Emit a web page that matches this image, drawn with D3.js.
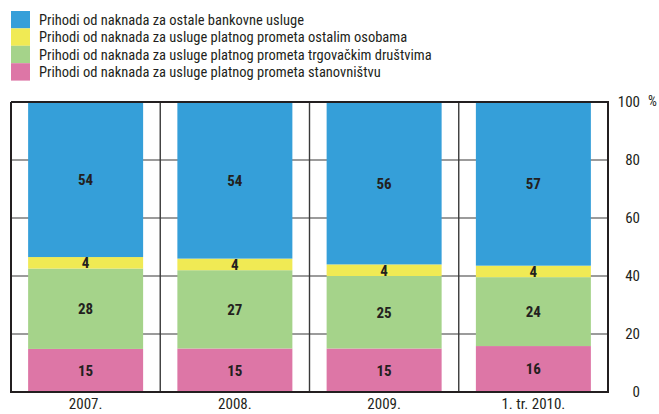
<!DOCTYPE html>
<html>
<head>
<meta charset="utf-8">
<script src="https://cdn.jsdelivr.net/npm/d3@7"></script>
<style>
  html, body { margin: 0; padding: 0; background: #ffffff; }
  svg { display: block; }
  text { font-family: "Liberation Sans Narrow", "Roboto Condensed", "DejaVu Sans Condensed", sans-serif; fill: #231f20; }
</style>
</head>
<body>
<svg id="chart" width="659" height="414"></svg>
<script>
// Fee income structure, shares in percent
const categories = ["2007.", "2008.", "2009.", "1. tr. 2010."];
const seriesNames = [
  "Prihodi od naknada za usluge platnog prometa stanovništvu",
  "Prihodi od naknada za usluge platnog prometa trgovačkim društvima",
  "Prihodi od naknada za usluge platnog prometa ostalim osobama",
  "Prihodi od naknada za ostale bankovne usluge"
];
const stanovnistvo = [15, 15, 15, 16];
const trgovackaDrustva = [28, 27, 25, 24];
const ostaleOsobe = [4, 4, 4, 4];
const ostaleUsluge = [54, 54, 56, 57];
const yTicks = [0, 20, 40, 60, 80, 100];
const colors = ["#dd76a6", "#a5d38a", "#f0ea54", "#359fd9"];

const seriesValues = [stanovnistvo, trgovackaDrustva, ostaleOsobe, ostaleUsluge];
const rows = categories.map((c, i) => {
  const r = { category: c };
  seriesNames.forEach((s, k) => { r[s] = seriesValues[k][i]; });
  return r;
});

const svg = d3.select("#chart");
const plot = { left: 11, right: 608, top: 102, bottom: 392 };

const x = d3.scaleBand()
  .domain(categories)
  .range([plot.left, plot.right])
  .paddingInner(0.2295)
  .paddingOuter(0.2295 / 2);

const y = d3.scaleLinear().domain([0, 100]).range([plot.bottom, plot.top]);

// Each column is stacked as shares of its own total
const stack = d3.stack().keys(seriesNames).offset(d3.stackOffsetExpand);
const layers = stack(rows);

// Horizontal grid lines
svg.append("g")
  .selectAll("line")
  .data(yTicks.filter(t => t > 0 && t < 100))
  .join("line")
  .attr("x1", plot.left).attr("x2", plot.right)
  .attr("y1", d => y(d)).attr("y2", d => y(d))
  .attr("stroke", "#7a7a7a").attr("stroke-width", 1.4);

// Vertical separators between categories
const step = x.step();
svg.append("g")
  .selectAll("line")
  .data(d3.range(1, categories.length))
  .join("line")
  .attr("x1", i => plot.left + i * step).attr("x2", i => plot.left + i * step)
  .attr("y1", plot.top).attr("y2", plot.bottom)
  .attr("stroke", "#3a3a3a").attr("stroke-width", 1.4);

// Bars
const layerG = svg.append("g")
  .selectAll("g")
  .data(layers)
  .join("g")
  .attr("fill", (d, i) => colors[i]);

layerG.selectAll("rect")
  .data(d => d)
  .join("rect")
  .attr("x", d => x(d.data.category))
  .attr("width", x.bandwidth())
  .attr("y", d => y(d[1] * 100))
  .attr("height", d => y(d[0] * 100) - y(d[1] * 100));

// Value labels
svg.append("g")
  .selectAll("g")
  .data(layers)
  .join("g")
  .each(function(layer) {
    d3.select(this).selectAll("text")
      .data(layer)
      .join("text")
      .attr("x", d => x(d.data.category) + x.bandwidth() / 2)
      .attr("y", d => y((d[0] + d[1]) / 2 * 100))
      .attr("dy", "0.36em")
      .attr("text-anchor", "middle")
      .attr("font-size", 15)
      .attr("font-weight", "bold")
      .text(d => d.data[layer.key]);
  });

// Plot frame
svg.append("path")
  .attr("d", `M${plot.left},${plot.top}V${plot.bottom}H${plot.right}V${plot.top}H${plot.left}`)
  .attr("fill", "none")
  .attr("stroke", "#231f20")
  .attr("stroke-width", 2);

// Right value axis
const yAxis = d3.axisRight(y).tickValues(yTicks).tickSize(0).tickPadding(0);
const yAxisG = svg.append("g")
  .attr("transform", `translate(${plot.right},0)`)
  .call(yAxis);
yAxisG.select(".domain").remove();
yAxisG.selectAll("text")
  .attr("x", 32)
  .attr("text-anchor", "end")
  .attr("font-size", 15)
  .attr("fill", "#231f20")
  .style("font-family", null);
svg.append("text")
  .attr("x", 648).attr("y", y(100)).attr("dy", "0.32em")
  .attr("font-size", 14)
  .text("%");

// Category axis
const xAxis = d3.axisBottom(x).tickSize(0).tickPadding(0);
const xAxisG = svg.append("g")
  .attr("transform", `translate(0,${plot.bottom})`)
  .call(xAxis);
xAxisG.select(".domain").remove();
xAxisG.selectAll("text")
  .attr("y", 12)
  .attr("dy", "0.32em")
  .attr("font-size", 15)
  .attr("fill", "#231f20")
  .style("font-family", null);

// Legend, top series first
const legendItems = seriesNames.map((s, i) => ({ name: s, color: colors[i] })).reverse();
const legend = svg.append("g").attr("transform", "translate(11,11)");
const rowH = 17.4;
const li = legend.selectAll("g")
  .data(legendItems)
  .join("g")
  .attr("transform", (d, i) => `translate(0,${i * rowH})`);
li.append("rect")
  .attr("width", 19).attr("height", rowH)
  .attr("fill", d => d.color);
li.append("text")
  .attr("x", 28).attr("y", rowH / 2).attr("dy", "0.35em")
  .attr("font-size", 14.5)
  .text(d => d.name);
</script>
</body>
</html>
